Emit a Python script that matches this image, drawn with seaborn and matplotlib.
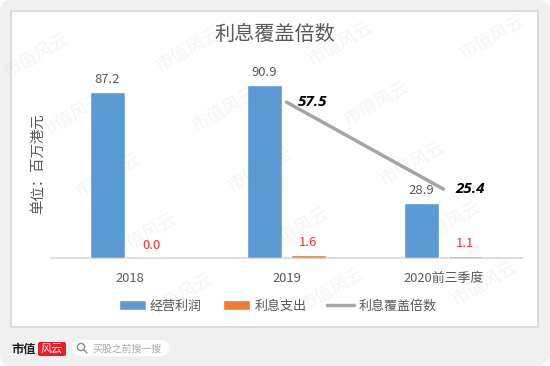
#!/usr/bin/env python3
"""
Interest coverage chart: bars for profit and interest, line for coverage.
"""
import matplotlib.pyplot as plt
from matplotlib.lines import Line2D
from matplotlib.patches import Circle, FancyBboxPatch, Patch
import numpy as np
import pandas as pd
import seaborn as sns

periods = ['2018', '2019', '2020前三季度']
profit = [87.2, 90.9, 28.9]
interest = [0.0, 1.6, 1.1]
coverage = [np.nan, 57.5, 25.4]
series_names = ['经营利润', '利息支出', '利息覆盖倍数']

BLUE = '#5b9bd5'
ORANGE = '#ed7d31'
GREY = '#a5a5a5'
TEXT = '#595959'
W, H = 550, 366

sns.set_theme(style='white')
plt.rcParams['font.family'] = ['Noto Sans CJK SC', 'DejaVu Sans']

fig = plt.figure(figsize=(W / 100, H / 100), dpi=100, facecolor='white')

# page background, in pixel coordinates
bg = fig.add_axes([0, 0, 1, 1], zorder=-1)
bg.set_xlim(0, W)
bg.set_ylim(H, 0)
bg.axis('off')
bg.add_patch(FancyBboxPatch((0, 0), W, H, boxstyle='round,pad=0,rounding_size=12',
                            fc='#f0f0f0', ec='none'))
bg.add_patch(plt.Rectangle((11, 11), 527, 316, fc='white', ec='#dcdcdc', lw=1.4))
bg.text(11, 349, '市值', fontsize=8.8, fontweight='bold', color='#222222',
        va='center', ha='left')
bg.add_patch(FancyBboxPatch((38, 342), 28, 14, boxstyle='round,pad=0,rounding_size=2',
                            fc='#ee1c25', ec='none'))
bg.text(52, 349, '风云', fontsize=8, color='white', style='italic',
        ha='center', va='center')
bg.add_patch(FancyBboxPatch((72, 340), 97, 16, boxstyle='round,pad=0,rounding_size=8',
                            fc='white', ec='none'))
bg.add_patch(Circle((81, 347), 3.6, fc='none', ec='#8c8c8c', lw=1))
bg.plot([83.6, 87], [349.6, 353], color='#8c8c8c', lw=1)
bg.text(92, 348.5, '买股之前搜一搜', fontsize=7.1, color='#a6a6a6', va='center')

# main chart
ax = fig.add_axes([51 / W, 1 - 258 / H, 471 / W, 190.3 / H], facecolor='none')
df = pd.DataFrame({
    'period': periods * 2,
    'value': profit + interest,
    'series': [series_names[0]] * 3 + [series_names[1]] * 3,
})
sns.barplot(data=df, x='period', y='value', hue='series', order=periods,
            palette=[BLUE, ORANGE], width=0.56, gap=0.2, saturation=1,
            legend=False, ax=ax)
ax.set_ylim(0, 100)
ax.set_xlim(-0.5, 2.5)
ax.set_xlabel('')
ax.set_ylabel('')
ax.set_yticks([])
ax.tick_params(axis='x', length=0, pad=10, labelsize=9.3, labelcolor=TEXT)
sns.despine(ax=ax, left=True)
ax.spines['bottom'].set_color('#d9d9d9')
ax.spines['bottom'].set_linewidth(1.3)
ax.spines['bottom'].set_zorder(0.5)
ax.bar_label(ax.containers[0], fmt='%.1f', padding=4.5, fontsize=9.4, color=TEXT)
ax.bar_label(ax.containers[1], fmt='%.1f', padding=4.5, fontsize=9.4, color='#ff2a2a')

ax2 = ax.twinx()
ax2.set_facecolor('none')
sns.lineplot(x=periods, y=coverage, color=GREY, linewidth=2.5, ax=ax2,
             legend=False, errorbar=None, solid_capstyle='round')
ax2.set_ylim(0, 70.2)
ax2.set_yticks([])
ax2.set_ylabel('')
sns.despine(ax=ax2, left=True, right=True, bottom=True)
for i, val in enumerate(coverage):
    if not np.isnan(val):
        ax2.annotate(f'{val:.1f}', (i, val), xytext=(19, 0), textcoords='offset points',
                     ha='center', va='center', fontsize=11, fontweight='bold',
                     style='italic', color='black', family='Open Sans')

fig.text(275 / W, 1 - 34 / H, '利息覆盖倍数', fontsize=14.5, color=TEXT,
         ha='center', va='center')
fig.text(38 / W, 1 - 164 / H, '单位：百万港元', fontsize=10.4, color=TEXT,
         rotation=90, ha='center', va='center')

handles = [Patch(fc=BLUE, label=series_names[0]),
           Patch(fc=ORANGE, label=series_names[1]),
           Line2D([], [], color=GREY, lw=2.5, label=series_names[2])]
fig.legend(handles=handles, loc='center', bbox_to_anchor=(277.5 / W, 1 - 306 / H),
           ncol=3, frameon=False, fontsize=9.4, labelcolor=TEXT, handlelength=2.1,
           handletextpad=0.3, columnspacing=1.6, borderpad=0, borderaxespad=0)

# staggered watermark, only the ones centred on the page
for row in range(-1, 7):
    for col in range(-1, 5):
        x = 36 + 36 * row + 152 * col
        y = 55 + 60 * row - 6 * col
        if 33 < x < W - 33 and 25 < y < H - 25:
            fig.text(x / W, 1 - y / H, '市值风云', fontsize=13, color='#7f7f7f', alpha=0.08,
                     rotation=30, rotation_mode='anchor', ha='center', va='center')

fig.savefig('out.png', dpi=100)
